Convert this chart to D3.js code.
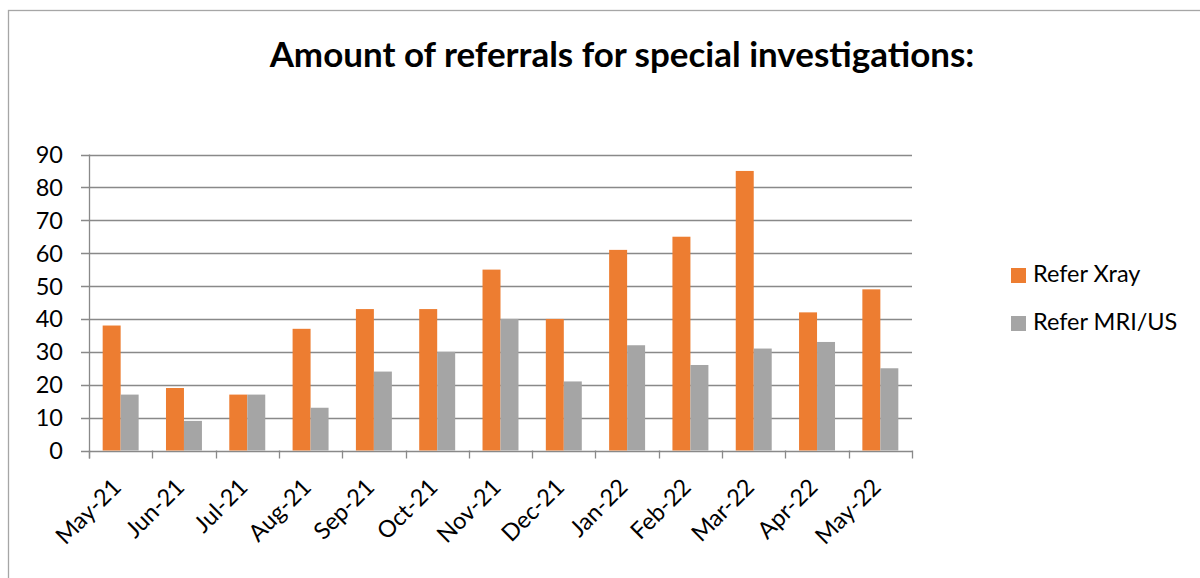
<!DOCTYPE html>
<html>
<head>
<meta charset="utf-8">
<script src="https://cdn.jsdelivr.net/npm/d3@7"></script>
<style>
  body { margin: 0; background: #fff; }
  svg { display: block; font-family: Lato, "Open Sans", sans-serif; }
</style>
</head>
<body>
<svg id="chart"></svg>
<script>
// chart data
const months = ["May-21", "Jun-21", "Jul-21", "Aug-21", "Sep-21", "Oct-21", "Nov-21",
  "Dec-21", "Jan-22", "Feb-22", "Mar-22", "Apr-22", "May-22"];
const seriesNames = ["Refer Xray", "Refer MRI/US"];
const xrayValues = [38, 19, 17, 37, 43, 43, 55, 40, 61, 65, 85, 42, 49];
const mriValues = [17, 9, 17, 13, 24, 30, 40, 21, 32, 26, 31, 33, 25];
const yTicks = [0, 10, 20, 30, 40, 50, 60, 70, 80, 90];
const TITLE = "Amount of referrals for special investigations:";

const COLORS = ["#ED7D31", "#A5A5A5"];
const GRID = "#898989";
const LABEL_SIZE = 23.5;

/**
 * Makes the scales for categories, series inside a category and values.
 */
function createScales(LEFT, RIGHT, TOP, BOTTOM) {
  var x = d3.scaleBand().domain(months).range([LEFT, RIGHT]).padding(0);
  var xInner = d3
    .scaleBand()
    .domain(seriesNames)
    .range([0, x.bandwidth()])
    .paddingInner(0)
    .paddingOuter(0.76);
  var y = d3.scaleLinear().domain([0, 90]).range([BOTTOM, TOP]);
  return { x: x, xInner: xInner, y: y };
}

/**
 * Draws the gridlines, value labels and the category axis.
 */
function drawAxes(svg, x, y, LEFT, RIGHT, BOTTOM) {
  // horizontal gridlines + left tick marks
  svg
    .append("g")
    .attr("class", "grid")
    .selectAll("line")
    .data(yTicks)
    .enter()
    .append("line")
    .attr("x1", LEFT - 8)
    .attr("x2", RIGHT)
    .attr("y1", (d) => Math.round(y(d)) + 0.5)
    .attr("y2", (d) => Math.round(y(d)) + 0.5)
    .attr("stroke", GRID)
    .attr("stroke-width", 1.3);

  svg
    .append("g")
    .attr("class", "yLabels")
    .selectAll("text")
    .data(yTicks)
    .enter()
    .append("text")
    .attr("x", LEFT - 26)
    .attr("y", (d) => y(d))
    .attr("dy", "0.36em")
    .attr("text-anchor", "end")
    .attr("font-size", LABEL_SIZE)
    .attr("fill", "#000")
    .text((d) => d);

  // vertical axis line
  svg
    .append("line")
    .attr("x1", LEFT + 0.5)
    .attr("x2", LEFT + 0.5)
    .attr("y1", y(90))
    .attr("y2", BOTTOM + 8)
    .attr("stroke", GRID)
    .attr("stroke-width", 1.3);

  // category boundaries
  var edges = months.map((m) => x(m)).concat([x.range()[1]]);
  svg
    .append("g")
    .attr("class", "xTicks")
    .selectAll("line")
    .data(edges)
    .enter()
    .append("line")
    .attr("x1", (d) => Math.round(d) + 0.5)
    .attr("x2", (d) => Math.round(d) + 0.5)
    .attr("y1", BOTTOM)
    .attr("y2", BOTTOM + 8)
    .attr("stroke", GRID)
    .attr("stroke-width", 1.3);

  svg
    .append("g")
    .attr("class", "xLabels")
    .selectAll("text")
    .data(months)
    .enter()
    .append("text")
    .attr(
      "transform",
      (d) => "translate(" + (x(d) + x.bandwidth() / 2 + 2) + "," + (BOTTOM + 38) + ") rotate(-45)"
    )
    .attr("text-anchor", "end")
    .attr("font-size", LABEL_SIZE)
    .attr("fill", "#000")
    .text((d) => d);
}

/**
 * Draws the clustered bars for both series.
 */
function drawBars(svg, x, xInner, y) {
  var rows = months.map((m, i) => ({
    month: m,
    values: [
      { name: seriesNames[0], value: xrayValues[i] },
      { name: seriesNames[1], value: mriValues[i] },
    ],
  }));

  svg
    .append("g")
    .attr("class", "bars")
    .selectAll("g")
    .data(rows)
    .enter()
    .append("g")
    .attr("transform", (d) => "translate(" + x(d.month) + ",0)")
    .selectAll("rect")
    .data((d) => d.values)
    .enter()
    .append("rect")
    .attr("x", (d) => xInner(d.name))
    .attr("y", (d) => y(d.value))
    .attr("width", xInner.bandwidth())
    .attr("height", (d) => y(0) - y(d.value))
    .attr("fill", (d, i) => COLORS[i]);
}

/**
 * Legend at the right side.
 */
function drawLegend(svg) {
  var legend = svg
    .append("g")
    .attr("class", "legend")
    .selectAll("g")
    .data(seriesNames)
    .enter()
    .append("g")
    .attr("transform", (d, i) => "translate(1011," + (268 + i * 48) + ")");

  legend
    .append("rect")
    .attr("width", 15)
    .attr("height", 15)
    .attr("fill", (d, i) => COLORS[i]);

  legend
    .append("text")
    .attr("x", 22)
    .attr("y", 14)
    .attr("font-size", LABEL_SIZE)
    .attr("fill", "#000")
    .text((d) => d);
}

function createChart() {
  const WIDTH = 1200;
  const HEIGHT = 578;
  const LEFT = 89;
  const RIGHT = 912;
  const TOP = 154.5;
  const BOTTOM = 450.5;

  var svg = d3.select("#chart").attr("width", WIDTH).attr("height", HEIGHT);

  // outer chart frame, runs past the window on the right and bottom
  svg
    .append("rect")
    .attr("x", 8.5)
    .attr("y", 10.5)
    .attr("width", 1300)
    .attr("height", 700)
    .attr("fill", "#fff")
    .attr("stroke", "#a6a6a6")
    .attr("stroke-width", 1.3);

  var title = svg
    .append("text")
    .attr("x", 622)
    .attr("y", 67)
    .attr("text-anchor", "middle")
    .attr("font-size", 32)
    .attr("font-weight", "bold")
    .attr("fill", "#000")
    .text(TITLE);
  // squeeze the title to the width it has in the picture
  var len = title.node().getComputedTextLength();
  title.attr("font-size", (32 * 705) / len);

  var { x: x, xInner: xInner, y: y } = createScales(LEFT, RIGHT, TOP, BOTTOM);
  drawAxes(svg, x, y, LEFT, RIGHT, BOTTOM);
  drawBars(svg, x, xInner, y);
  drawLegend(svg);
}

createChart();
</script>
</body>
</html>
